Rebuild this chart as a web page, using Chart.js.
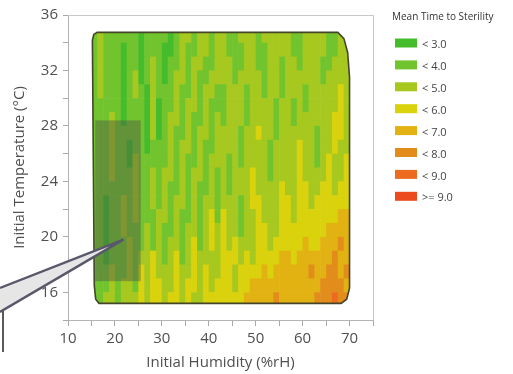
<!DOCTYPE html>
<html lang="en">
<head>
<meta charset="UTF-8">
<title>Mean Time to Sterility</title>
<script src="https://cdn.jsdelivr.net/npm/chart.js@4"></script>
<style>
  html, body { margin: 0; padding: 0; background: #fff; }
</style>
</head>
<body>
<canvas id="chart" width="513" height="374"></canvas>
<script>
// grid of level classes: digit d means the "< d+1" band (2 -> < 3.0 ... 9 -> >= 9.0)
// columns: humidity 15..70 step 1.25, rows: temperature 35 down to 15 step 1
const humStart = 15, humStep = 1.25;
const tempTop = 35, tempStep = 1;
const levelRows = [
  '34333333233 33234434434 43344434444 43344443344',
  '34333233233 32234334434 43334433444 43344443344',
  '34333233234 32334344334 44334433443 44344433444',
  '34333234234 32344343344 44344443443 44444434444',
  '34333234324 33343343443 34443443443 44434444454',
  '33333233324 23343443433 34443444434 43434444454',
  '33343233324 23443433434 34443444434 43444444554',
  '33343333324 23433434434 44434454434 44444344554',
  '33343323323 33434434334 44434444344 44544344544',
  '33343324333 33434334344 43434444344 44544345445',
  '33343334334 34434344343 43444544344 44544445445',
  '33333334334 34334343343 43444544445 44554455455',
  '33233434334 34344343443 44434554445 54554555555',
  '33233434333 44343343453 54434454445 54555555566',
  '33233433343 43343443454 54434455445 55555556666',
  '33233343343 43443453454 54544455455 55565566676',
  '33233343445 43453454444 55545455556 65666666766',
  '33343343545 44454454544 55455556566 66667667767',
  '33343443545 54454554545 55455666666 66666677776',
  '33443444545 54554544555 55556666676 66666777877'
];

const legendTitle = 'Mean Time to Sterility';
const legendLabels = ['< 3.0', '< 4.0', '< 5.0', '< 6.0', '< 7.0', '< 8.0', '< 9.0', '>= 9.0'];
const legendColors = ['#44bc2c', '#72c42e', '#a6c81f', '#d9d20c', '#e2b213', '#e28c1b', '#ec6b1f', '#ec4b1d'];

// region outline (humidity, temperature)
const outlineX = [15.2, 15.5, 16.2, 67.5, 68.8, 69.6, 70.0, 70.0, 69.4, 68.2, 16.6, 15.9, 15.6, 15.2];
const outlineY = [34.2, 34.6, 34.75, 34.75, 34.3, 33.3, 31.5, 16.3, 15.5, 15.2, 15.2, 15.5, 16.5, 34.2];

// highlighted box and callout tip
const boxHum = [15.8, 25.5];
const boxTemp = [16.8, 28.4];
const calloutTip = [21.8, 19.8];

const xTicks = { min: 10, max: 75, step: 5 };
const yTicks = { min: 14, max: 36, step: 2 };

const FONT = "'Open Sans', 'Noto Sans', sans-serif";

const contourPlugin = {
  id: 'contour',
  beforeDatasetsDraw(chart) {
    const { ctx, scales: { x, y } } = chart;
    ctx.save();
    ctx.beginPath();
    outlineX.forEach((h, i) => {
      const px = x.getPixelForValue(h), py = y.getPixelForValue(outlineY[i]);
      if (i) ctx.lineTo(px, py); else ctx.moveTo(px, py);
    });
    ctx.closePath();
    ctx.clip();
    levelRows.forEach((row, r) => {
      row.replace(/ /g, '').split('').forEach((d, c) => {
        const h0 = humStart + c * humStep, t0 = tempTop - r * tempStep;
        const x0 = x.getPixelForValue(h0), x1 = x.getPixelForValue(h0 + humStep);
        const y0 = y.getPixelForValue(t0), y1 = y.getPixelForValue(t0 - tempStep);
        ctx.fillStyle = legendColors[+d - 2];
        ctx.fillRect(x0, y0, x1 - x0 + 0.6, y1 - y0 + 0.6);
      });
    });
    ctx.restore();
  },
  afterDatasetsDraw(chart) {
    const { ctx, scales: { x, y } } = chart;
    const bx0 = x.getPixelForValue(boxHum[0]), bx1 = x.getPixelForValue(boxHum[1]);
    const by0 = y.getPixelForValue(boxTemp[1]), by1 = y.getPixelForValue(boxTemp[0]);
    ctx.save();
    ctx.fillStyle = 'rgba(75,75,75,0.4)';
    ctx.fillRect(bx0, by0, bx1 - bx0, by1 - by0);
    ctx.restore();
  },
  afterDraw(chart) {
    const { ctx, chartArea: a, scales: { x, y } } = chart;
    ctx.save();
    // frame top / right
    ctx.strokeStyle = '#c8c8c8';
    ctx.lineWidth = 1;
    ctx.beginPath();
    ctx.moveTo(a.left, a.top + 0.5);
    ctx.lineTo(a.right + 0.5, a.top + 0.5);
    ctx.lineTo(a.right + 0.5, a.bottom);
    ctx.stroke();

    // callout
    const tx = x.getPixelForValue(calloutTip[0]), ty = y.getPixelForValue(calloutTip[1]);
    ctx.beginPath();
    ctx.moveTo(tx, ty);
    ctx.lineTo(0, 288);
    ctx.lineTo(0, 312);
    ctx.closePath();
    ctx.fillStyle = '#e6e6e6';
    ctx.fill();
    ctx.beginPath();
    ctx.moveTo(0, 288);
    ctx.lineTo(tx, ty);
    ctx.lineTo(0, 312);
    ctx.strokeStyle = '#58586a';
    ctx.lineWidth = 2.4;
    ctx.stroke();
    ctx.beginPath();
    ctx.moveTo(3, 310);
    ctx.lineTo(3, 352);
    ctx.lineWidth = 2;
    ctx.strokeStyle = '#5a5a5a';
    ctx.stroke();

    // legend
    ctx.textBaseline = 'middle';
    ctx.textAlign = 'left';
    ctx.fillStyle = '#333';
    ctx.font = '10px ' + FONT;
    ctx.fillText(legendTitle, 392, 17);
    ctx.font = '11px ' + FONT;
    legendLabels.forEach((lab, i) => {
      const cy = 43 + i * 21.9;
      ctx.fillStyle = legendColors[i];
      ctx.fillRect(395, cy - 4.5, 22, 9);
      ctx.fillStyle = '#444';
      ctx.fillText(lab, 422, cy + 2);
    });
    ctx.restore();
  }
};

new Chart(document.getElementById('chart'), {
  type: 'scatter',
  data: {
    datasets: [{
      data: outlineX.map((h, i) => ({ x: h, y: outlineY[i] })),
      showLine: true,
      borderColor: '#45452a',
      borderWidth: 1.6,
      pointRadius: 0,
      tension: 0,
      fill: false
    }]
  },
  options: {
    responsive: false,
    animation: false,
    layout: { padding: { top: 15, right: 140, left: 0, bottom: 0 } },
    plugins: { legend: { display: false }, tooltip: { enabled: false } },
    scales: {
      x: {
        type: 'linear',
        min: xTicks.min, max: xTicks.max,
        afterFit: s => { s.height = 54; },
        ticks: {
          stepSize: xTicks.step, autoSkip: false, maxRotation: 0, padding: 4,
          color: '#505050', font: { family: FONT, size: 15 },
          callback: v => (v % 10 === 0 && v < 75 ? v : '')
        },
        grid: { drawOnChartArea: false, tickLength: 6, tickColor: '#a8a8a8' },
        border: { color: '#b4b4b4' },
        title: {
          display: true, text: 'Initial Humidity (%rH)', color: '#505050',
          font: { family: FONT, size: 15 }, padding: { top: 0, bottom: 2 }
        }
      },
      y: {
        type: 'linear',
        min: yTicks.min, max: yTicks.max,
        afterFit: s => { s.width = 68; },
        ticks: {
          stepSize: yTicks.step, autoSkip: false, padding: 5,
          color: '#505050', font: { family: FONT, size: 15 },
          callback: v => (v % 4 === 0 ? v : '')
        },
        grid: { drawOnChartArea: false, tickLength: 5, tickColor: '#a8a8a8' },
        border: { color: '#b4b4b4' },
        title: {
          display: true, text: 'Initial Temperature (°C)', color: '#505050',
          font: { family: FONT, size: 15 }, padding: { top: 11, bottom: 0 }
        }
      }
    }
  },
  plugins: [contourPlugin]
});
</script>
</body>
</html>
